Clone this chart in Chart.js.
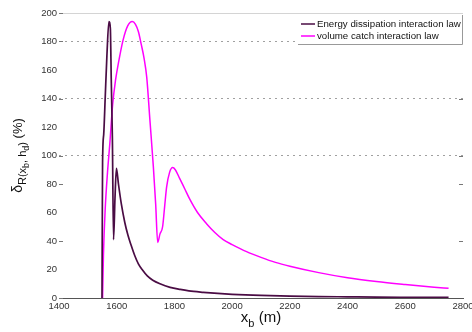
<!DOCTYPE html>
<html>
<head>
<meta charset="utf-8">
<script src="https://cdn.jsdelivr.net/npm/chart.js@4/dist/chart.umd.min.js"></script>
<style>
  html, body { margin: 0; padding: 0; background: #fff; }
  #wrap { width: 472px; height: 332px; }
</style>
</head>
<body>
<div id="wrap"><canvas id="myChart" width="472" height="332"></canvas></div>
<script>
'use strict';

// energy dissipation interaction law
const xEnergy = [1549, 1550, 1551, 1555, 1560, 1566, 1573, 1578, 1581, 1585, 1589, 1594, 1599, 1606, 1616, 1628, 1639, 1650, 1662, 1675, 1690, 1706, 1725, 1750, 1785, 1820, 1850, 1900, 1950, 2000, 2100, 2200, 2300, 2400, 2500, 2600, 2750];
const yEnergy = [0, 52, 95, 115, 140, 170, 194, 189, 154, 112, 41, 70, 91, 80, 66, 53, 44, 37, 30, 24, 19.5, 15.5, 12.5, 10, 7.5, 6, 5, 4, 3.2, 2.6, 1.8, 1.3, 1, 0.8, 0.6, 0.5, 0.4];

// volume catch interaction law
const xVolume = [1551, 1554, 1560, 1568, 1576, 1586, 1596, 1606, 1622, 1638, 1654, 1665, 1675, 1685, 1695, 1704, 1715, 1727, 1735, 1742, 1750, 1759, 1766, 1773, 1783, 1794, 1803, 1818, 1836, 1854, 1880, 1912, 1940, 1969, 2000, 2050, 2100, 2150, 2200, 2300, 2400, 2500, 2600, 2700, 2750];
const yVolume = [0, 30, 62, 88, 108, 136, 153, 165, 181, 191, 194, 192, 187, 178, 168, 155, 125, 92, 66, 39, 45, 50, 64, 78, 88, 91.5, 90, 84, 76.5, 69, 60, 52, 46, 41, 37.5, 32.5, 28.5, 25, 22.3, 17.8, 14.2, 11.6, 9.5, 7.6, 6.8];

const seriesLabels = ['Energy dissipation interaction law', 'volume catch interaction law'];
const xRange = [1400, 2800];
const yRange = [0, 200];
const dottedGrid = [100, 140, 180];
const leftMarks = [0, 40, 80, 100, 140, 180, 200];
const rightMarks = [40, 80, 100, 140];

const colorEnergy = '#4a0c44';
const colorVolume = '#ff00ff';
const FONT = '"Liberation Sans", Arial, sans-serif';

function toPoints(xs, ys) {
  return xs.map(function (x, i) { return { x: x, y: ys[i] }; });
}

function drawRich(ctx, parts, x, y) {
  let w = 0;
  parts.forEach(function (p) {
    ctx.font = p.size + 'px ' + FONT;
    w += ctx.measureText(p.t).width;
  });
  let cx = x - w / 2;
  parts.forEach(function (p) {
    ctx.font = p.size + 'px ' + FONT;
    ctx.fillText(p.t, cx, y + p.dy);
    cx += ctx.measureText(p.t).width;
  });
}

// top frame line and inward tick marks
const frameMarks = {
  id: 'frameMarks',
  beforeDatasetsDraw: function (chart) {
    const ctx = chart.ctx;
    const area = chart.chartArea;
    const ys = chart.scales.y;
    ctx.save();
    ctx.strokeStyle = '#d4d4d4';
    ctx.lineWidth = 1;
    ctx.beginPath();
    ctx.moveTo(area.left, Math.round(area.top) + 0.5);
    ctx.lineTo(area.right, Math.round(area.top) + 0.5);
    ctx.stroke();
    ctx.strokeStyle = '#777';
    leftMarks.forEach(function (v) {
      const py = Math.round(ys.getPixelForValue(v)) + 0.5;
      ctx.beginPath();
      ctx.moveTo(area.left, py);
      ctx.lineTo(area.left + 4, py);
      ctx.stroke();
    });
    rightMarks.forEach(function (v) {
      const py = Math.round(ys.getPixelForValue(v)) + 0.5;
      ctx.beginPath();
      ctx.moveTo(area.right - 4, py);
      ctx.lineTo(area.right, py);
      ctx.stroke();
    });
    ctx.restore();
  }
};

// legend box in the upper right corner
const boxLegend = {
  id: 'boxLegend',
  afterDatasetsDraw: function (chart) {
    const ctx = chart.ctx;
    const area = chart.chartArea;
    const colors = [colorEnergy, colorVolume];
    const right = area.right;
    const left = 298;
    const top = 15;
    const bottom = 44;
    ctx.save();
    ctx.fillStyle = '#fff';
    ctx.fillRect(left, top, right - left, bottom - top);
    ctx.strokeStyle = '#999';
    ctx.lineWidth = 1;
    ctx.beginPath();
    ctx.moveTo(left, bottom + 0.5);
    ctx.lineTo(right - 0.5, bottom + 0.5);
    ctx.lineTo(right - 0.5, top);
    ctx.stroke();
    ctx.font = '9.7px ' + FONT;
    ctx.textBaseline = 'middle';
    seriesLabels.forEach(function (label, i) {
      const py = 24 + i * 12;
      ctx.strokeStyle = colors[i];
      ctx.lineWidth = 1.5;
      ctx.beginPath();
      ctx.moveTo(301, py);
      ctx.lineTo(315, py);
      ctx.stroke();
      ctx.fillStyle = '#111';
      ctx.fillText(label, 317, py + 0.5);
    });
    ctx.restore();
  }
};

// axis titles with subscripts
const axisTitles = {
  id: 'axisTitles',
  afterDraw: function (chart) {
    const ctx = chart.ctx;
    const area = chart.chartArea;
    ctx.save();
    ctx.fillStyle = '#111';
    ctx.textBaseline = 'alphabetic';
    ctx.textAlign = 'left';
    drawRich(ctx, [
      { t: 'x', size: 15, dy: 0 },
      { t: 'b', size: 11, dy: 5 },
      { t: ' (m)', size: 15, dy: 0 }
    ], (area.left + area.right) / 2, 322);
    ctx.translate(22, (area.top + area.bottom) / 2);
    ctx.rotate(-Math.PI / 2);
    drawRich(ctx, [
      { t: 'δ', size: 14, dy: 0 },
      { t: 'R(x', size: 11, dy: 4 },
      { t: 'b', size: 9, dy: 7 },
      { t: ', h', size: 11, dy: 4 },
      { t: 'd', size: 9, dy: 7 },
      { t: ')', size: 11, dy: 4 },
      { t: ' (%)', size: 13, dy: 0 }
    ], 0, 0);
    ctx.restore();
  }
};

const ctx = document.getElementById('myChart');
const myChart = new Chart(ctx, {
  type: 'line',
  data: {
    datasets: [{
      label: seriesLabels[0],
      data: toPoints(xEnergy, yEnergy),
      borderColor: colorEnergy,
      borderWidth: 1.7,
      pointRadius: 0,
      cubicInterpolationMode: 'monotone',
      fill: false
    }, {
      label: seriesLabels[1],
      data: toPoints(xVolume, yVolume),
      borderColor: colorVolume,
      borderWidth: 1.5,
      pointRadius: 0,
      cubicInterpolationMode: 'monotone',
      fill: false
    }]
  },
  options: {
    responsive: false,
    animation: false,
    devicePixelRatio: 1,
    layout: { padding: { top: 13, right: 9, left: 0, bottom: 0 } },
    plugins: {
      legend: { display: false },
      tooltip: { enabled: false }
    },
    scales: {
      x: {
        type: 'linear',
        min: xRange[0],
        max: xRange[1],
        grid: { display: false, drawTicks: false },
        border: { display: true, color: '#555', width: 1 },
        ticks: {
          stepSize: 200,
          padding: 3,
          color: '#333',
          font: { family: FONT, size: 9.5 },
          maxRotation: 0,
          callback: function (v) { return String(v); }
        },
        afterFit: function (scale) {
          scale.height = 34;
          scale.paddingRight = 0;
        }
      },
      y: {
        min: yRange[0],
        max: yRange[1],
        grid: {
          drawTicks: false,
          lineWidth: 1,
          color: function (c) {
            return dottedGrid.indexOf(c.tick.value) >= 0 ? '#a0a0a0' : 'rgba(0,0,0,0)';
          }
        },
        border: { display: false, dash: [2, 4] },
        ticks: {
          stepSize: 20,
          padding: 2,
          color: '#333',
          font: { family: FONT, size: 9.5 },
          callback: function (v) { return String(v); }
        },
        afterFit: function (scale) {
          scale.width = 59;
        }
      }
    }
  },
  plugins: [frameMarks, boxLegend, axisTitles]
});
</script>
</body>
</html>
